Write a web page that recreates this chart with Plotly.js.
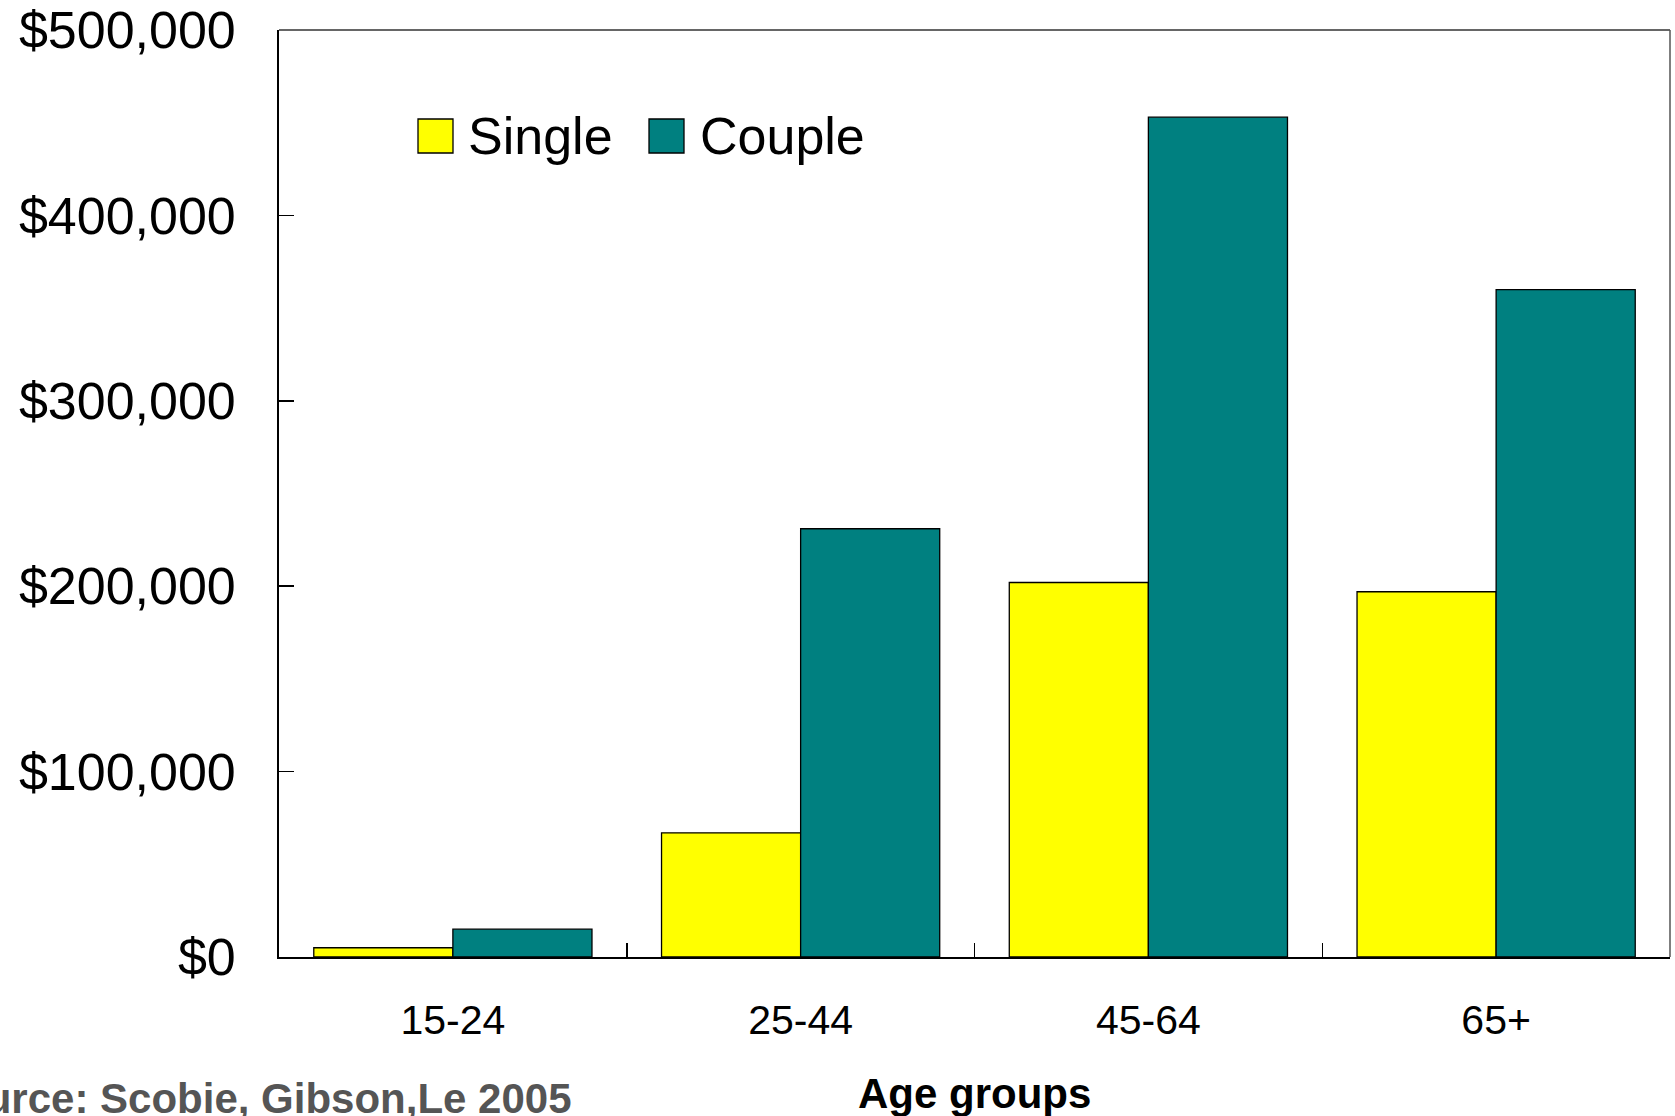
<!DOCTYPE html>
<html>
<head>
<meta charset="utf-8">
<script src="https://cdn.plot.ly/plotly-3.0.1.min.js"></script>
<style>
  html, body { margin: 0; padding: 0; background: #ffffff; }
  #chart { width: 1675px; height: 1116px; }
</style>
</head>
<body>
<div id="chart"></div>
<script>
// Average household net worth by age group, single vs couple households
const ageGroups = ['15-24', '25-44', '45-64', '65+'];
const singleWorth = [5000, 67000, 202000, 197000];
const coupleWorth = [15000, 231000, 453000, 360000];
const seriesNames = ['Single', 'Couple'];
const seriesColors = ['#ffff00', '#008080'];
const yTickValues = [0, 100000, 200000, 300000, 400000, 500000];
const xAxisLabel = 'Age groups';
const sourceNote = 'Source: Scobie, Gibson,Le 2005';

const FONT = 'Liberation Sans, Arial, sans-serif';

const traces = [singleWorth, coupleWorth].map((vals, i) => ({
  type: 'bar',
  name: seriesNames[i],
  x: ageGroups,
  y: vals,
  marker: { color: seriesColors[i], line: { color: '#000000', width: 1.3 } },
  hoverinfo: 'x+y+name'
}));

// plot-area helpers: convert pixel offsets to paper coordinates
const M = { l: 279, r: 5, t: 30, b: 159 };
const W = 1675, H = 1116;
const PW = W - M.l - M.r, PH = H - M.t - M.b;
const px = v => (v - M.l) / PW;
const py = v => (H - M.b - v) / PH;

// hand-drawn legend: large swatches with labels
const swatchX = [418, 649];
const labelX = [466, 698];
const shapes = [];
const annotations = [];
seriesNames.forEach((name, i) => {
  shapes.push({
    type: 'rect', xref: 'paper', yref: 'paper',
    x0: px(swatchX[i]), x1: px(swatchX[i] + 35),
    y0: py(153), y1: py(119),
    fillcolor: seriesColors[i], line: { color: '#000000', width: 1.3 }
  });
  annotations.push({
    xref: 'paper', yref: 'paper', x: px(labelX[i]), y: py(136),
    xanchor: 'left', yanchor: 'middle', showarrow: false,
    text: name, font: { family: FONT, size: 52, color: '#000000' }
  });
});

// frame: top and right edges in dark grey
shapes.push({ type: 'line', xref: 'paper', yref: 'paper', x0: 0, x1: 1, y0: 1, y1: 1,
  line: { color: '#333333', width: 1.5 } });
shapes.push({ type: 'line', xref: 'paper', yref: 'paper', x0: 1, x1: 1, y0: 0, y1: 1,
  line: { color: '#555555', width: 1.5 } });

annotations.push({
  xref: 'paper', yref: 'paper', x: 0.5, y: py(1093),
  xanchor: 'center', yanchor: 'middle', showarrow: false,
  text: '<b>' + xAxisLabel + '</b>', font: { family: FONT, size: 42, color: '#000000' }
});
annotations.push({
  xref: 'paper', yref: 'paper', x: px(574), y: py(1098),
  xanchor: 'right', yanchor: 'middle', showarrow: false,
  text: '<b>' + sourceNote + '</b>', font: { family: FONT, size: 42, color: '#555555' }
});

const layout = {
  width: W, height: H,
  margin: M,
  paper_bgcolor: '#ffffff', plot_bgcolor: '#ffffff',
  showlegend: false,
  barmode: 'group', bargap: 0.2, bargroupgap: 0,
  font: { family: FONT, color: '#000000' },
  xaxis: {
    type: 'category',
    range: [-0.5, 3.5],
    showline: true, linecolor: '#000000', linewidth: 2,
    ticks: 'inside', tickson: 'boundaries', ticklen: 14, tickwidth: 1.5, tickcolor: '#000000',
    tickfont: { family: FONT, size: 41, color: '#000000' },
    ticklabelstandoff: 26,
    showgrid: false, zeroline: false, fixedrange: true
  },
  yaxis: {
    range: [0, 500000],
    tickvals: yTickValues,
    tickformat: '$,.0f',
    showline: true, linecolor: '#000000', linewidth: 1.8,
    ticks: 'inside', ticklen: 15, tickwidth: 1.5, tickcolor: '#000000',
    tickfont: { family: FONT, size: 52, color: '#000000' },
    ticklabelstandoff: 31,
    showgrid: false, zeroline: false, fixedrange: true
  },
  shapes: shapes,
  annotations: annotations
};

Plotly.newPlot('chart', traces, layout, { displayModeBar: false, staticPlot: true });
</script>
</body>
</html>
